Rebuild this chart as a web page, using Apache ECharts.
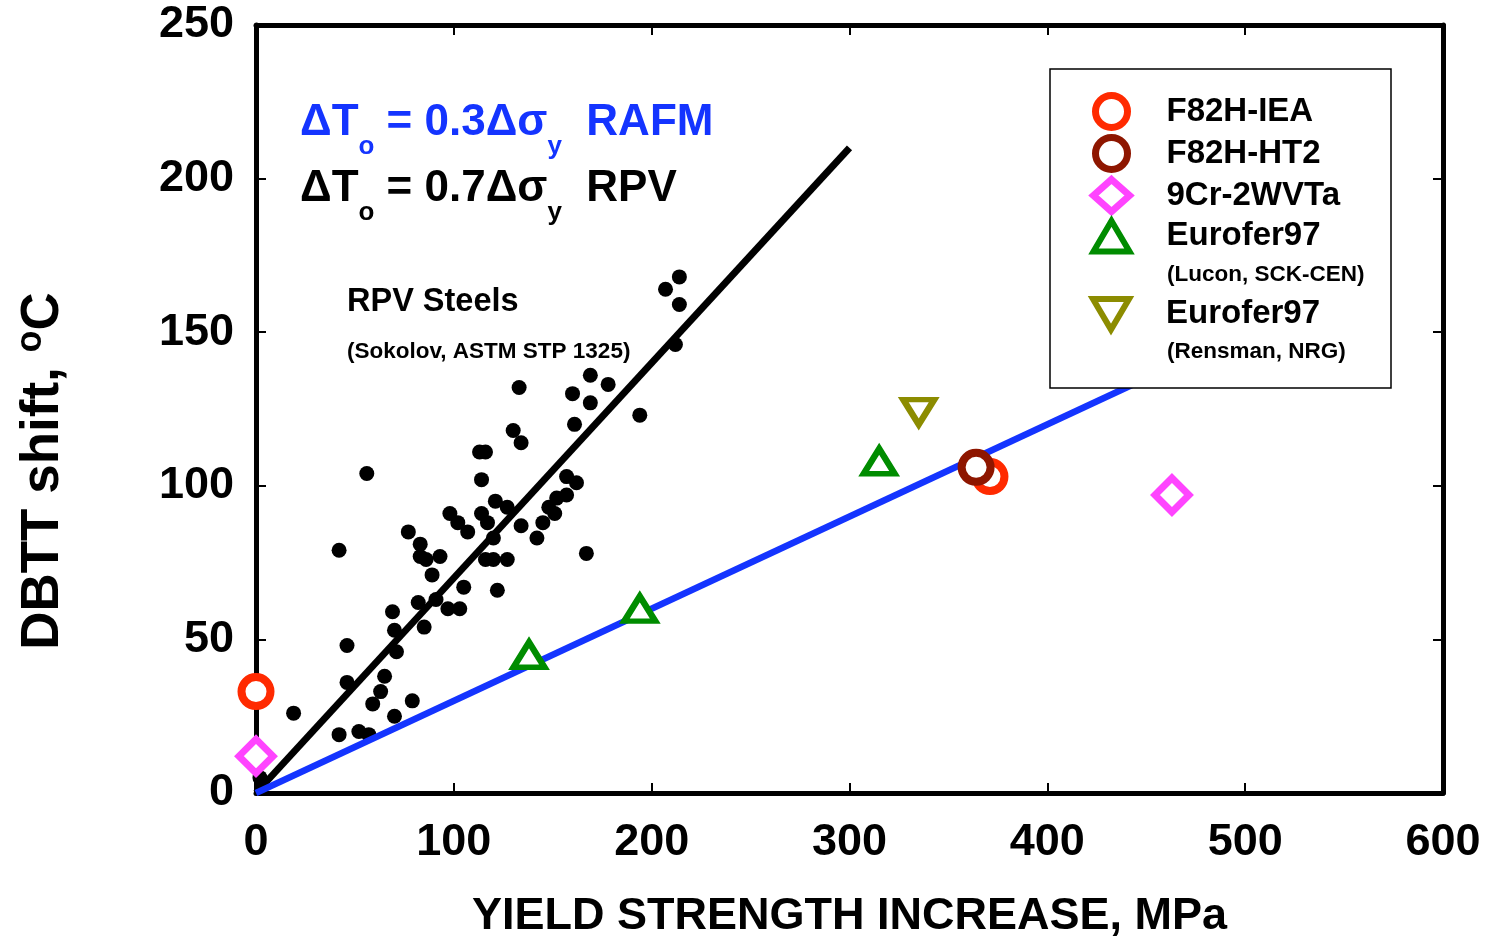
<!DOCTYPE html>
<html lang="en">
<head>
<meta charset="UTF-8">
<title>DBTT shift vs yield strength increase</title>
<script src="https://cdn.jsdelivr.net/npm/echarts@6/dist/echarts.min.js"></script>
</head>
<body style="margin:0">
<div id="main" style="width:1486px;height:937px"></div>
<script type="text/javascript">
    // values: [yield strength increase MPa, DBTT shift C]
    var xTicks = [0, 100, 200, 300, 400, 500, 600];
    var yTicks = [0, 50, 100, 150, 200, 250];

    var rpvSteels = [
        [214, 168], [207, 164], [214, 159], [212, 146], [133, 132], [169, 136], [178, 133],
        [160, 130], [169, 127], [194, 123], [161, 120], [130, 118], [134, 114], [113, 111],
        [116, 111], [56, 104], [114, 102], [157, 103], [162, 101], [157, 97], [152, 96],
        [121, 95], [127, 93], [148, 93], [151, 91], [98, 91], [114, 91], [102, 88],
        [117, 88], [145, 88], [134, 87], [107, 85], [77, 85], [83, 81], [120, 83],
        [142, 83], [42, 79], [83, 77], [86, 76], [93, 77], [116, 76], [120, 76],
        [127, 76], [167, 78], [89, 71], [105, 67], [122, 66], [82, 62], [69, 59],
        [70, 53], [85, 54], [97, 60], [103, 60], [91, 63], [46, 48], [71, 46],
        [65, 38], [63, 33], [46, 36], [59, 29], [79, 30], [70, 25], [19, 26],
        [42, 19], [52, 20], [57, 19], [2, 5]
    ];
    var f82hIea = [[0, 33], [371, 103]];
    var f82hHt2 = [[364, 106]];
    var cr9 = [[0, 12], [463, 97]];
    var euroLucon = [[138, 45], [194, 60], [315, 108]];
    var euroRensman = [[335, 124]];
    var rafmLine = [[0, 0], [500, 150]];   // dT = 0.3 dSy
    var rpvLine = [[0, 0], [300, 210]];    // dT = 0.7 dSy

    var FONT = 'Liberation Sans, Arial, sans-serif';
    var BLUE = '#1434ff';

    function hollow(color, w) {
        return { color: '#fff', borderColor: color, borderWidth: w, opacity: 1 };
    }
    function frameAxis(pos) {
        return {
            type: 'value', position: pos,
            axisLine: { onZero: false, lineStyle: { color: '#000', width: 5 } },
            axisTick: { inside: true, length: 10, lineStyle: { color: '#000', width: 2 } },
            splitLine: { show: false }
        };
    }

    var tickFont = { fontFamily: FONT, fontWeight: 'bold', fontSize: 45, color: '#000' };
    var legendText = { fontFamily: FONT, fontWeight: 'bold', fontSize: 33, color: '#000', lineHeight: 32, padding: [0, 0, 0, 32] };

    var xBottom = frameAxis('bottom');
    Object.assign(xBottom, {
        min: 0, max: 600, interval: 100,
        name: 'YIELD STRENGTH INCREASE, MPa', nameLocation: 'middle', nameGap: 101,
        nameTextStyle: { fontFamily: FONT, fontWeight: 'bold', fontSize: 45, color: '#000' },
        axisLabel: Object.assign({ margin: 27, formatter: function (v) { return xTicks.indexOf(v) >= 0 ? String(v) : ''; } }, tickFont)
    });
    var xTop = frameAxis('top');
    Object.assign(xTop, { min: 0, max: 600, interval: 100, axisLabel: { show: false } });

    var yLeft = frameAxis('left');
    Object.assign(yLeft, {
        min: 0, max: 250, interval: 50,
        name: 'DBTT shift, {s|o}C', nameLocation: 'middle', nameGap: 183,
        nameTextStyle: { fontFamily: FONT, fontWeight: 'bold', fontSize: 53, color: '#000', padding: [0, 124, 0, 0],
            rich: { s: { fontFamily: FONT, fontWeight: 'bold', fontSize: 36, color: '#000', padding: [0, 0, 24, 0] } } },
        axisLabel: Object.assign({ margin: 22, formatter: function (v) { return yTicks.indexOf(v) >= 0 ? String(v) : ''; } }, tickFont)
    });
    var yRight = frameAxis('right');
    Object.assign(yRight, { min: 0, max: 250, interval: 50, axisLabel: { show: false } });

    function formula(txt, color, top) {
        return { type: 'text', z: 60, left: 300, top: top,
            style: { text: txt, fill: color,
                rich: {
                    a: { fontFamily: FONT, fontWeight: 'bold', fontSize: 44, fill: color, lineHeight: 50, verticalAlign: 'top' },
                    s: { fontFamily: FONT, fontWeight: 'bold', fontSize: 26, fill: color, lineHeight: 24, padding: [33, 0, 0, 0], verticalAlign: 'top' }
                } } };
    }

    var myChart = echarts.init(document.getElementById('main'));
    var option = {
        backgroundColor: '#fff',
        animation: false,
        grid: { left: 256, right: 43, top: 25, bottom: 144, outerBoundsMode: 'none', containLabel: false },
        xAxis: [xBottom, xTop],
        yAxis: [yLeft, yRight],
        legend: [{
            orient: 'vertical', left: 1090, top: 92, padding: 0, itemWidth: 36, itemHeight: 32, itemGap: 3,
            selectedMode: false, z: 60, textStyle: legendText,
            formatter: function (n) { return n.split(' (')[0]; },
            data: [
                { name: 'F82H-IEA', icon: 'circle', itemStyle: hollow('#ff2a00', 7) },
                { name: 'F82H-HT2', icon: 'circle', itemStyle: hollow('#8e1600', 7) },
                { name: '9Cr-2WVTa', icon: 'diamond', itemStyle: hollow('#ff44ff', 7) },
                { name: 'Eurofer97 (Lucon, SCK-CEN)', icon: 'path://M5,0L10,8.5L0,8.5Z', itemStyle: hollow('#008c00', 6) }
            ]
        }, {
            orient: 'vertical', left: 1090, top: 296, padding: 0, itemWidth: 36, itemHeight: 32,
            selectedMode: false, z: 60, textStyle: legendText,
            formatter: function (n) { return n.split(' (')[0]; },
            data: [
                { name: 'Eurofer97 (Rensman, NRG)', icon: 'path://M0,0L10,0L5,8.5Z', itemStyle: hollow('#8c8c00', 6) }
            ]
        }],
        graphic: [
            { type: 'rect', z: 50, shape: { x: 1050, y: 69, width: 341, height: 319 },
              style: { fill: '#fff', stroke: '#000', lineWidth: 1.5 } },
            { type: 'text', z: 60, left: 1167, top: 263,
              style: { text: '(Lucon, SCK-CEN)', font: 'bold 22.5px ' + FONT, fill: '#000' } },
            { type: 'text', z: 60, left: 1167, top: 340,
              style: { text: '(Rensman, NRG)', font: 'bold 22.5px ' + FONT, fill: '#000' } },
            formula('{a|ΔT}{s|o}{a| = 0.3Δσ}{s|y}{a|  RAFM}', BLUE, 101),
            formula('{a|ΔT}{s|o}{a| = 0.7Δσ}{s|y}{a|  RPV}', '#000', 167),
            { type: 'text', z: 60, left: 347, top: 286,
              style: { text: 'RPV Steels', font: 'bold 32.5px ' + FONT, fill: '#000' } },
            { type: 'text', z: 60, left: 347, top: 340,
              style: { text: '(Sokolov, ASTM STP 1325)', font: 'bold 22.5px ' + FONT, fill: '#000' } }
        ],
        series: [
            { name: 'RPV Steels', type: 'scatter', data: rpvSteels, symbolSize: 15, z: 3,
              itemStyle: { color: '#000', opacity: 1 } },
            { name: 'RPV fit', type: 'line', data: rpvLine, symbol: 'none', z: 4,
              lineStyle: { color: '#000', width: 7 } },
            { name: 'RAFM fit', type: 'line', data: rafmLine, symbol: 'none', z: 5,
              lineStyle: { color: BLUE, width: 6.5 } },
            { name: 'F82H-IEA', type: 'scatter', data: f82hIea, symbol: 'circle', symbolSize: 29, clip: false, z: 6,
              itemStyle: hollow('#ff2a00', 8) },
            { name: 'F82H-HT2', type: 'scatter', data: f82hHt2, symbol: 'circle', symbolSize: 29, clip: false, z: 7,
              itemStyle: hollow('#8e1600', 8) },
            { name: '9Cr-2WVTa', type: 'scatter', data: cr9, symbol: 'diamond', symbolSize: 34, clip: false, z: 6,
              itemStyle: hollow('#ff44ff', 7) },
            { name: 'Eurofer97 (Lucon, SCK-CEN)', type: 'scatter', data: euroLucon, symbol: 'triangle', symbolSize: [31, 25], clip: false, z: 6,
              itemStyle: hollow('#008c00', 6) },
            { name: 'Eurofer97 (Rensman, NRG)', type: 'scatter', data: euroRensman, symbol: 'triangle', symbolRotate: 180, symbolSize: [31, 25], clip: false, z: 6,
              itemStyle: hollow('#8c8c00', 6) }
        ]
    };
    myChart.setOption(option);
</script>
</body>
</html>
